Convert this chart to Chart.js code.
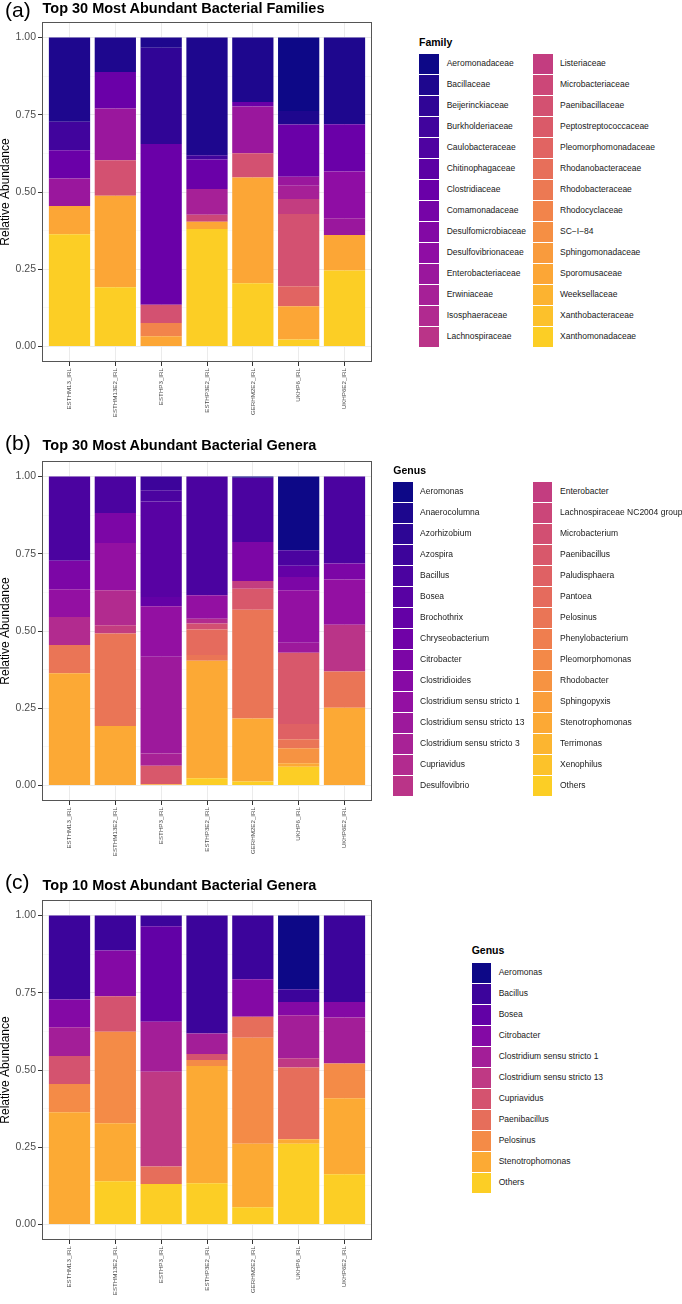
<!DOCTYPE html>
<html><head><meta charset="utf-8">
<script src="https://cdn.jsdelivr.net/npm/chart.js@4.4.1/dist/chart.umd.min.js"></script>
<style>
html,body{margin:0;padding:0;background:#fff;}
body{width:682px;height:1304px;position:relative;overflow:hidden;font-family:"Liberation Sans",Arial,Helvetica,sans-serif;}
.abs{position:absolute;white-space:nowrap;}
canvas{position:absolute;left:0;}
</style></head><body>
<script>
// ---------------- DATA ----------------
const samples = ['ESTHM13_IRL','ESTHM13E2_IRL','ESTHP3_IRL','ESTHP3E2_IRL','GERHM2E2_IRL','UKHP6_IRL','UKHP6E2_IRL'];
const yTickValues = [0, 0.25, 0.5, 0.75, 1];
const yMinorValues = [0.125, 0.375, 0.625, 0.875];

// (a) families, stacked top-to-bottom in this order
const families = ['Aeromonadaceae','Bacillaceae','Beijerinckiaceae','Burkholderiaceae','Caulobacteraceae','Chitinophagaceae','Clostridiaceae','Comamonadaceae','Desulfomicrobiaceae','Desulfovibrionaceae','Enterobacteriaceae','Erwiniaceae','Isosphaeraceae','Lachnospiraceae','Listeriaceae','Microbacteriaceae','Paenibacillaceae','Peptostreptococcaceae','Pleomorphomonadaceae','Rhodanobacteraceae','Rhodobacteraceae','Rhodocyclaceae','SC\u2212I\u221284','Sphingomonadaceae','Sporomusaceae','Weeksellaceae','Xanthobacteraceae','Xanthomonadaceae'];
const familyValues = [
  [0,0,0,0,0,0.238,0],
  [0.273,0.112,0.033,0.381,0.209,0.044,0.281],
  [0,0,0.312,0,0,0,0],
  [0.092,0,0,0.014,0,0,0],
  [0,0,0,0,0,0,0],
  [0,0,0,0,0,0,0],
  [0.091,0.118,0.520,0.095,0.014,0.169,0.153],
  [0,0,0,0,0,0,0],
  [0,0,0,0,0,0,0],
  [0,0,0,0,0,0,0.151],
  [0.089,0.167,0,0,0.152,0.029,0.054],
  [0,0,0,0.084,0,0.043,0],
  [0,0,0,0,0,0,0],
  [0,0,0,0,0,0,0],
  [0,0,0,0,0,0.048,0],
  [0,0,0,0.022,0,0,0],
  [0,0.115,0.059,0,0.078,0.234,0],
  [0,0,0,0,0,0,0],
  [0,0,0,0,0,0.065,0],
  [0,0,0,0,0,0,0],
  [0,0,0,0,0,0,0],
  [0,0,0.043,0,0,0,0],
  [0,0,0,0,0,0,0],
  [0,0,0,0,0,0,0],
  [0.092,0.296,0.033,0.024,0.342,0.107,0.115],
  [0,0,0,0,0,0,0],
  [0,0,0,0,0,0,0],
  [0.363,0.192,0,0.380,0.205,0.023,0.246]
];

// (b) top 30 genera
const genera30 = ['Aeromonas','Anaerocolumna','Azorhizobium','Azospira','Bacillus','Bosea','Brochothrix','Chryseobacterium','Citrobacter','Clostridioides','Clostridium sensu stricto 1','Clostridium sensu stricto 13','Clostridium sensu stricto 3','Cupriavidus','Desulfovibrio','Enterobacter','Lachnospiraceae NC2004 group','Microbacterium','Paenibacillus','Paludisphaera','Pantoea','Pelosinus','Phenylobacterium','Pleomorphomonas','Rhodobacter','Sphingopyxis','Stenotrophomonas','Terrimonas','Xenophilus','Others'];
const genera30Values = [
  [0,0,0,0,0.004,0.239,0],
  [0,0,0,0,0,0,0],
  [0,0,0,0,0,0,0],
  [0,0,0.045,0,0,0,0],
  [0.273,0.118,0.036,0.384,0.208,0.050,0.282],
  [0,0,0.309,0,0,0,0],
  [0,0,0.030,0,0,0.036,0],
  [0,0,0,0,0,0,0],
  [0.092,0.097,0,0,0.126,0.043,0.051],
  [0,0,0,0,0,0,0],
  [0.090,0.153,0.163,0.076,0,0.170,0.147],
  [0,0,0.313,0,0,0.032,0],
  [0,0,0.040,0,0,0,0],
  [0.090,0.113,0,0.016,0,0,0],
  [0,0,0,0,0,0,0.151],
  [0,0.027,0,0,0.025,0,0],
  [0,0,0,0,0,0,0],
  [0,0,0,0.019,0,0,0],
  [0,0,0.060,0,0.068,0.231,0],
  [0,0,0,0,0,0.049,0],
  [0,0,0,0.083,0,0,0],
  [0.092,0.299,0,0.018,0.352,0.029,0.117],
  [0,0,0,0,0,0,0],
  [0,0,0,0,0,0,0],
  [0,0,0,0,0,0.049,0],
  [0,0,0,0,0,0,0],
  [0.363,0.193,0.004,0.380,0.204,0.011,0.252],
  [0,0,0,0,0,0,0],
  [0,0,0,0,0,0,0],
  [0,0,0,0.024,0.013,0.061,0]
];

// (c) top 10 genera
const genera10 = ['Aeromonas','Bacillus','Bosea','Citrobacter','Clostridium sensu stricto 1','Clostridium sensu stricto 13','Cupriavidus','Paenibacillus','Pelosinus','Stenotrophomonas','Others'];
const genera10Values = [
  [0,0,0,0,0,0.239,0],
  [0.272,0.113,0.035,0.382,0.206,0.041,0.280],
  [0,0,0.309,0,0,0,0],
  [0.090,0.148,0,0,0.122,0.043,0.050],
  [0.093,0,0.162,0.066,0,0.139,0.149],
  [0,0,0.306,0,0,0.030,0],
  [0.090,0.115,0,0.020,0,0,0],
  [0,0,0.057,0,0.068,0.232,0],
  [0.092,0.296,0,0.019,0.343,0,0.112],
  [0.363,0.188,0,0.379,0.205,0.015,0.246],
  [0,0.140,0.131,0.134,0.056,0.261,0.163]
];

// ---------------- STYLE ----------------
const FONT = '"Liberation Sans", Arial, Helvetica, sans-serif';
const plasmaStops = ['#0D0887','#41049D','#6A00A8','#8F0DA4','#B12A90','#CC4778','#E16462','#F2844B','#FCA636','#FCCE25','#F0F921'];
function hex(h){return [1,3,5].map(i=>parseInt(h.substr(i,2),16));}
function plasma(t){
  const p=t*10, i=Math.min(9,Math.floor(p)), f=p-i;
  const a=hex(plasmaStops[i]), b=hex(plasmaStops[i+1]);
  return 'rgb('+a.map((v,k)=>Math.round(v+(b[k]-v)*f)).join(',')+')';
}
function palette(n){return Array.from({length:n},(_,i)=>plasma(0.9*i/(n-1)));}

function text(x, baseline, str, size, weight, color){
  const d=document.createElement('div');
  d.className='abs';
  d.textContent=str;
  d.style.left=x+'px';
  d.style.top=(baseline-0.8465*size)+'px';
  d.style.fontSize=size+'px';
  d.style.lineHeight=size+'px';
  d.style.fontWeight=weight;
  d.style.color=color;
  document.body.appendChild(d);
}

const borderPlugin = {
  id:'panelBorder',
  afterDatasetsDraw(chart){
    const {ctx, chartArea:a} = chart;
    ctx.save();
    ctx.strokeStyle='#555';
    ctx.lineWidth=1;
    ctx.strokeRect(Math.round(a.left)+0.5, Math.round(a.top)+0.5, Math.round(a.right-a.left)-1, Math.round(a.bottom-a.top)-1);
    ctx.restore();
  }
};

function isMajor(v){return yTickValues.some(t=>Math.abs(t-v)<1e-9);}

function makePanel(top, height, names, rows){
  const colors = palette(names.length);
  const cv=document.createElement('canvas');
  cv.width=400; cv.height=height;
  cv.style.top=top+'px';
  document.body.appendChild(cv);
  const datasets=[];
  for(let i=names.length-1;i>=0;i--){
    datasets.push({
      label:names[i],
      data:rows[i].map((v,j)=>({x:j+1,y:v})),
      backgroundColor:colors[i],
      borderWidth:0,
      barPercentage:0.9,
      categoryPercentage:1.0
    });
  }
  new Chart(cv,{
    type:'bar',
    data:{datasets},
    options:{
      responsive:false, animation:false,
      layout:{padding:{top:22,right:28,left:0,bottom:0}},
      plugins:{legend:{display:false},tooltip:{enabled:false}},
      scales:{
        x:{type:'linear',stacked:true,min:0.4,max:7.6,offset:false,
          afterBuildTicks:s=>{s.ticks=samples.map((_,i)=>({value:i+1}));},
          afterFit:s=>{s.height=height-362;},
          grid:{offset:false,color:'#EBEBEB',lineWidth:1,drawTicks:true,tickLength:4,tickColor:'#333',tickWidth:1},
          border:{display:false},
          ticks:{autoSkip:false,minRotation:90,maxRotation:90,padding:2,color:'#4D4D4D',
            font:{family:FONT,size:6.2},callback:v=>samples[Math.round(v)-1]||''}
        },
        y:{type:'linear',stacked:true,min:-0.05,max:1.05,
          afterBuildTicks:s=>{s.ticks=yTickValues.concat(yMinorValues).sort((a,b)=>a-b).map(v=>({value:v}));},
          afterFit:s=>{s.width=42;},
          grid:{color:c=>isMajor(c.tick.value)?'#EBEBEB':'#F3F3F3',lineWidth:c=>isMajor(c.tick.value)?1:0.6,
            drawTicks:true,tickLength:4,tickWidth:1,tickColor:c=>isMajor(c.tick.value)?'#333':'rgba(0,0,0,0)'},
          border:{display:false},
          ticks:{padding:2,color:'#4D4D4D',font:{family:FONT,size:10.5},
            callback:v=>isMajor(v)?v.toFixed(2):''},
          title:{display:true,text:'Relative Abundance',color:'#000',font:{family:FONT,size:12,lineHeight:1},padding:{top:0,bottom:0}}
        }
      }
    },
    plugins:[borderPlugin]
  });
  return colors;
}

function legend(cfg, names, colors){
  text(cfg.titleX, cfg.titleBase, cfg.title, 10.5, 'bold', '#000');
  names.forEach((n,i)=>{
    const col=Math.floor(i/cfg.rows), row=i%cfg.rows;
    const y=cfg.keyTop+row*21;
    const k=document.createElement('div');
    k.className='abs';
    k.style.left=cfg.keyX[col]+'px'; k.style.top=y+'px';
    k.style.width='19.5px'; k.style.height='19.5px';
    k.style.background=colors[i];
    document.body.appendChild(k);
    const l=document.createElement('div');
    l.className='abs';
    l.textContent=n;
    l.style.left=cfg.labelX[col]+'px'; l.style.top=y+'px';
    l.style.lineHeight='19.5px'; l.style.fontSize='8.5px'; l.style.color='#1A1A1A';
    document.body.appendChild(l);
  });
}

// panel (a)
const colA = makePanel(0, 439, families, familyValues);
text(5, 17, '(a)', 21, 'normal', '#000');
text(42.5, 13.5, 'Top 30 Most Abundant Bacterial Families', 14.5, 'bold', '#000');
legend({title:'Family',titleX:419,titleBase:45.7,keyTop:54,keyX:[419,533],labelX:[446.7,560],rows:14}, families, colA);

// panel (b)
const colB = makePanel(439, 439, genera30, genera30Values);
text(5, 450, '(b)', 21, 'normal', '#000');
text(42.5, 450.5, 'Top 30 Most Abundant Bacterial Genera', 14.5, 'bold', '#000');
legend({title:'Genus',titleX:393.3,titleBase:474,keyTop:482.3,keyX:[393.3,532.7],labelX:[420,560],rows:15}, genera30, colB);

// panel (c)
const colC = makePanel(878, 426, genera10, genera10Values);
text(5, 889, '(c)', 21, 'normal', '#000');
text(42.5, 890, 'Top 10 Most Abundant Bacterial Genera', 14.5, 'bold', '#000');
legend({title:'Genus',titleX:471.7,titleBase:954,keyTop:963.3,keyX:[471.7],labelX:[498.7],rows:11}, genera10, colC);
</script>
</body></html>
